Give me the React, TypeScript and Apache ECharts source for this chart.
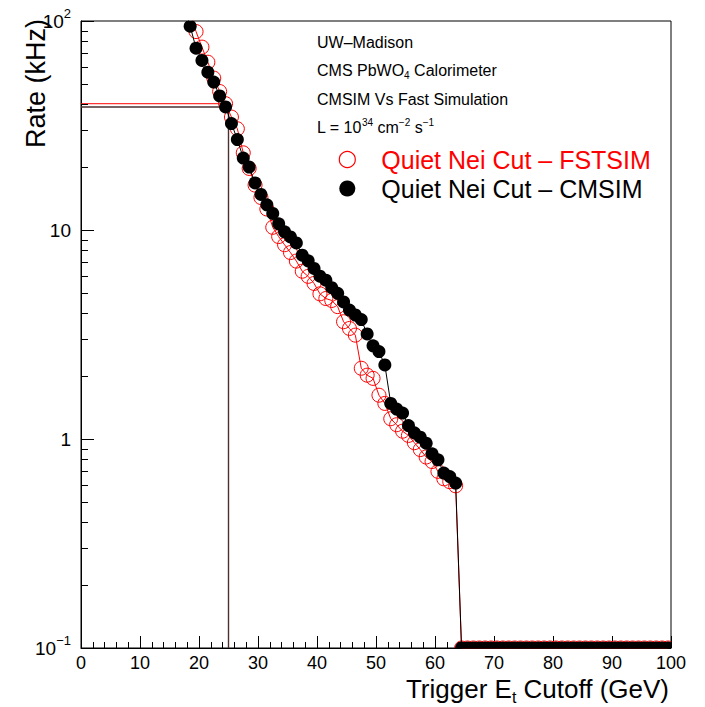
import React, { useEffect, useRef } from 'react';
import * as echarts from 'echarts';

// Bin centres of the trigger Et cutoff (GeV)
const cutoffs = [
  17.5, 18.5, 19.5, 20.5, 21.5, 22.5, 23.5, 24.5, 25.5, 26.5,
  27.5, 28.5, 29.5, 30.5, 31.5, 32.5, 33.5, 34.5, 35.5, 36.5,
  37.5, 38.5, 39.5, 40.5, 41.5, 42.5, 43.5, 44.5, 45.5, 46.5,
  47.5, 48.5, 49.5, 50.5, 51.5, 52.5, 53.5, 54.5, 55.5, 56.5,
  57.5, 58.5, 59.5, 60.5, 61.5, 62.5, 63.5, 64.5, 65.5, 66.5,
  67.5, 68.5, 69.5, 70.5, 71.5, 72.5, 73.5, 74.5, 75.5, 76.5,
  77.5, 78.5, 79.5, 80.5, 81.5, 82.5, 83.5, 84.5, 85.5, 86.5,
  87.5, 88.5, 89.5, 90.5, 91.5, 92.5, 93.5, 94.5, 95.5, 96.5,
  97.5, 98.5, 99.5,
];

// Quiet Nei Cut - FSTSIM (kHz), open red circles
const fstsimRates = [
  140, 108, 89, 75, 63.5, 53.3, 46, 40.2, 34.7, 30.5,
  23.4, 19.7, 16.4, 14.3, 12.6, 10.3, 9.3, 8.5, 7.8, 7.1,
  6.35, 6.0, 5.55, 4.95, 4.7, 4.6, 4.3, 3.64, 3.38, 3.14,
  2.18, 2.02, 1.95, 1.62, 1.48, 1.25, 1.17, 1.09, 1.04, 0.96,
  0.89, 0.82, 0.78, 0.7, 0.645, 0.625, 0.597, 0.1, 0.1, 0.1,
  0.1, 0.1, 0.1, 0.1, 0.1, 0.1, 0.1, 0.1, 0.1, 0.1,
  0.1, 0.1, 0.1, 0.1, 0.1, 0.1, 0.1, 0.1, 0.1, 0.1,
  0.1, 0.1, 0.1, 0.1, 0.1, 0.1, 0.1, 0.1, 0.1, 0.1,
  0.1, 0.1, 0.1,
];

// Quiet Nei Cut - CMSIM (kHz), filled black circles
const cmsimRates = [
  118, 94.4, 74.1, 64.8, 56.9, 51.0, 43.8, 38.8, 32.3, 27.1,
  22.1, 20.0, 16.8, 14.8, 13.2, 12.0, 10.7, 9.8, 9.27, 8.67,
  7.58, 7.12, 6.55, 6.01, 5.75, 5.3, 4.98, 4.53, 4.14, 3.92,
  3.73, 3.18, 2.79, 2.62, 2.26, 1.48, 1.39, 1.33, 1.16, 1.07,
  1.02, 0.955, 0.849, 0.795, 0.687, 0.661, 0.615, 0.1, 0.1, 0.1,
  0.1, 0.1, 0.1, 0.1, 0.1, 0.1, 0.1, 0.1, 0.1, 0.1,
  0.1, 0.1, 0.1, 0.1, 0.1, 0.1, 0.1, 0.1, 0.1, 0.1,
  0.1, 0.1, 0.1, 0.1, 0.1, 0.1, 0.1, 0.1, 0.1, 0.1,
  0.1, 0.1, 0.1,
];

const THRESHOLD = 25;
const Y_MIN = 0.1;
const Y_MAX = 100;
const X_MIN = 0;
const X_MAX = 100;
const X_INTERVAL = 10;
const MINOR_MULTIPLIERS = [2, 3, 4, 5, 6, 7, 8, 9];
const DECADES = [-1, 0, 1];

const FST_NAME = 'Quiet Nei Cut – FSTSIM';
const CMS_NAME = 'Quiet Nei Cut – CMSIM';
const X_TITLE = 'Trigger E{sub|t} Cutoff (GeV)';
const Y_TITLE = 'Rate (kHz)';
const annotationLines = [
  'UW–Madison',
  'CMS PbWO{sub|4} Calorimeter',
  'CMSIM Vs Fast Simulation',
  'L = 10{sup|34} cm{sup|−2} s{sup|−1}',
];
const annotationY = [42, 70.5, 99, 127];

const FONT = '"Liberation Sans", Arial, Helvetica, sans-serif';

export default function App() {
  const ref = useRef<HTMLDivElement>(null);

  useEffect(() => {
    const chart = echarts.init(ref.current!, null, { renderer: 'svg' });

    const fstPts = cutoffs.map((c, i) => [c, fstsimRates[i]]);
    const cmsPts = cutoffs.map((c, i) => [c, cmsimRates[i]]);
    const thrIdx = cutoffs.indexOf(THRESHOLD - 0.5);
    const fstThr = [
      [X_MIN, fstsimRates[thrIdx]],
      [THRESHOLD, fstsimRates[thrIdx]],
      [THRESHOLD, Y_MIN],
    ];
    const cmsThr = [
      [X_MIN, cmsimRates[thrIdx]],
      [THRESHOLD, cmsimRates[thrIdx]],
      [THRESHOLD, Y_MIN],
    ];

    const markerSeries = (name: string, data: number[][], z: number, filled: boolean) => ({
      type: 'custom',
      name,
      data,
      z,
      clip: true,
      silent: true,
      encode: { x: 0, y: 1 },
      itemStyle: { color: filled ? '#000000' : '#ff0000' },
      renderItem: (_params: any, api: any) => {
        const p = api.coord([api.value(0), api.value(1)]);
        return {
          type: 'circle',
          shape: { cx: p[0], cy: p[1], r: filled ? 6.5 : 7 },
          style: filled
            ? { fill: '#000000', stroke: 'none' }
            : { fill: 'none', stroke: '#ff0000', lineWidth: 1 },
        };
      },
    });

    const lineSeries = (name: string, data: number[][], z: number, color: string, width: number) => ({
      type: 'line',
      name,
      data,
      z,
      clip: true,
      silent: true,
      showSymbol: false,
      symbol: 'none',
      lineStyle: { color, width },
      itemStyle: { color },
    });

    const option: any = {
      animation: false,
      backgroundColor: '#ffffff',
      textStyle: { fontFamily: FONT },
      grid: {
        left: 81,
        right: 34,
        top: 21,
        bottom: 59,
        show: true,
        borderColor: '#000',
        borderWidth: 1,
        backgroundColor: 'transparent',
        containLabel: false,
        outerBoundsMode: 'none',
      },
      legend: {
        orient: 'vertical',
        left: 333.7,
        top: 142,
        itemWidth: 58,
        itemHeight: 16,
        itemGap: 4,
        selectedMode: false,
        textStyle: { fontSize: 25, fontFamily: FONT, lineHeight: 25 },
        data: [
          {
            name: FST_NAME,
            icon: 'circle',
            itemStyle: { color: 'rgba(0,0,0,0)', borderColor: '#ff0000', borderWidth: 1.2 },
            textStyle: { color: '#ff0000' },
          },
          {
            name: CMS_NAME,
            icon: 'circle',
            itemStyle: { color: '#000000', borderWidth: 0 },
            textStyle: { color: '#000000' },
          },
        ],
      },
      xAxis: {
        type: 'value',
        min: X_MIN,
        max: X_MAX,
        interval: X_INTERVAL,
        axisLine: { show: true, lineStyle: { color: '#000', width: 1 } },
        axisTick: { show: true, inside: true, length: 12, lineStyle: { color: '#000', width: 1 } },
        minorTick: { show: true, splitNumber: 5, length: 6, lineStyle: { color: '#000', width: 1 } },
        axisLabel: { color: '#000', fontSize: 18, fontFamily: FONT, margin: 6 },
        splitLine: { show: false },
        minorSplitLine: { show: false },
      },
      yAxis: {
        type: 'log',
        logBase: 10,
        min: Y_MIN,
        max: Y_MAX,
        axisLine: { show: true, lineStyle: { color: '#000', width: 1 } },
        axisTick: { show: true, inside: true, length: 13, lineStyle: { color: '#000', width: 1 } },
        axisLabel: {
          color: '#000',
          fontSize: 19,
          fontFamily: FONT,
          margin: 10,
          formatter: (v: number) => {
            const e = Math.round(Math.log10(v));
            if (e === 0) return '1';
            if (e === 1) return '10';
            return `{b|10}{sup|${e < 0 ? '−' + -e : e}}`;
          },
          rich: {
            b: { fontSize: 19, fontFamily: FONT, color: '#000', lineHeight: 28 },
            sup: { fontSize: 13, fontFamily: FONT, color: '#000', lineHeight: 13, verticalAlign: 'top' },
          },
        },
        splitLine: { show: false },
      },
      series: [
        lineSeries('FSTSIM threshold', fstThr, 1, '#ff0000', 1),
        lineSeries('CMSIM threshold', cmsThr, 1, '#4a3030', 1.4),
        lineSeries('FSTSIM line', fstPts, 2, '#ff0000', 1),
        markerSeries(FST_NAME, fstPts, 3, false),
        lineSeries('CMSIM line', cmsPts, 4, '#000000', 1),
        markerSeries(CMS_NAME, cmsPts, 5, true),
      ],
    };

    chart.setOption(option);

    // Log-axis minor ticks (2..9 per decade), placed through the axis scale
    const x0 = chart.convertToPixel({ xAxisIndex: 0 }, X_MIN) as number;
    const xEnd = chart.convertToPixel({ xAxisIndex: 0 }, X_MAX) as number;
    const yTop = chart.convertToPixel({ yAxisIndex: 0 }, Y_MAX) as number;
    const yBottom = chart.convertToPixel({ yAxisIndex: 0 }, Y_MIN) as number;
    const minorTicks: any[] = [];
    DECADES.forEach((d) => {
      MINOR_MULTIPLIERS.forEach((m) => {
        const v = m * Math.pow(10, d);
        const py = Math.round(chart.convertToPixel({ yAxisIndex: 0 }, v) as number) + 0.5;
        minorTicks.push({
          type: 'line',
          silent: true,
          z: 10,
          shape: { x1: x0, y1: py, x2: x0 + 7, y2: py },
          style: { stroke: '#000', lineWidth: 1 },
        });
      });
    });

    const annotations = annotationLines.map((t, i) => ({
      type: 'text',
      silent: true,
      z: 10,
      x: 317,
      y: annotationY[i],
      style: {
        text: t,
        fill: '#000',
        fontSize: 16,
        fontFamily: FONT,
        lineHeight: 20,
        verticalAlign: 'middle',
        align: 'left',
        rich: {
          sub: { fontSize: 10, fontFamily: FONT, fill: '#000', lineHeight: 10, verticalAlign: 'bottom' },
          sup: { fontSize: 10, fontFamily: FONT, fill: '#000', lineHeight: 10, verticalAlign: 'top' },
        },
      },
    }));

    const titles = [
      {
        type: 'text',
        silent: true,
        z: 10,
        x: xEnd - 2,
        y: yBottom + 41,
        style: {
          text: X_TITLE,
          fill: '#000',
          fontSize: 26,
          fontFamily: FONT,
          lineHeight: 32,
          align: 'right',
          verticalAlign: 'middle',
          rich: {
            sub: { fontSize: 16, fontFamily: FONT, fill: '#000', lineHeight: 16, verticalAlign: 'bottom' },
          },
        },
      },
      {
        type: 'text',
        silent: true,
        z: 10,
        x: 36,
        y: yTop - 2,
        rotation: Math.PI / 2,
        style: {
          text: Y_TITLE,
          fill: '#000',
          fontSize: 27,
          fontFamily: FONT,
          align: 'right',
          verticalAlign: 'middle',
        },
      },
    ];

    chart.setOption({ graphic: [...annotations, ...titles, ...minorTicks] });

    return () => {
      chart.dispose();
    };
  }, []);

  return (
    <div
      ref={ref}
      style={{ position: 'absolute', left: 0, top: 0, width: 705, height: 707, background: '#fff' }}
    />
  );
}
